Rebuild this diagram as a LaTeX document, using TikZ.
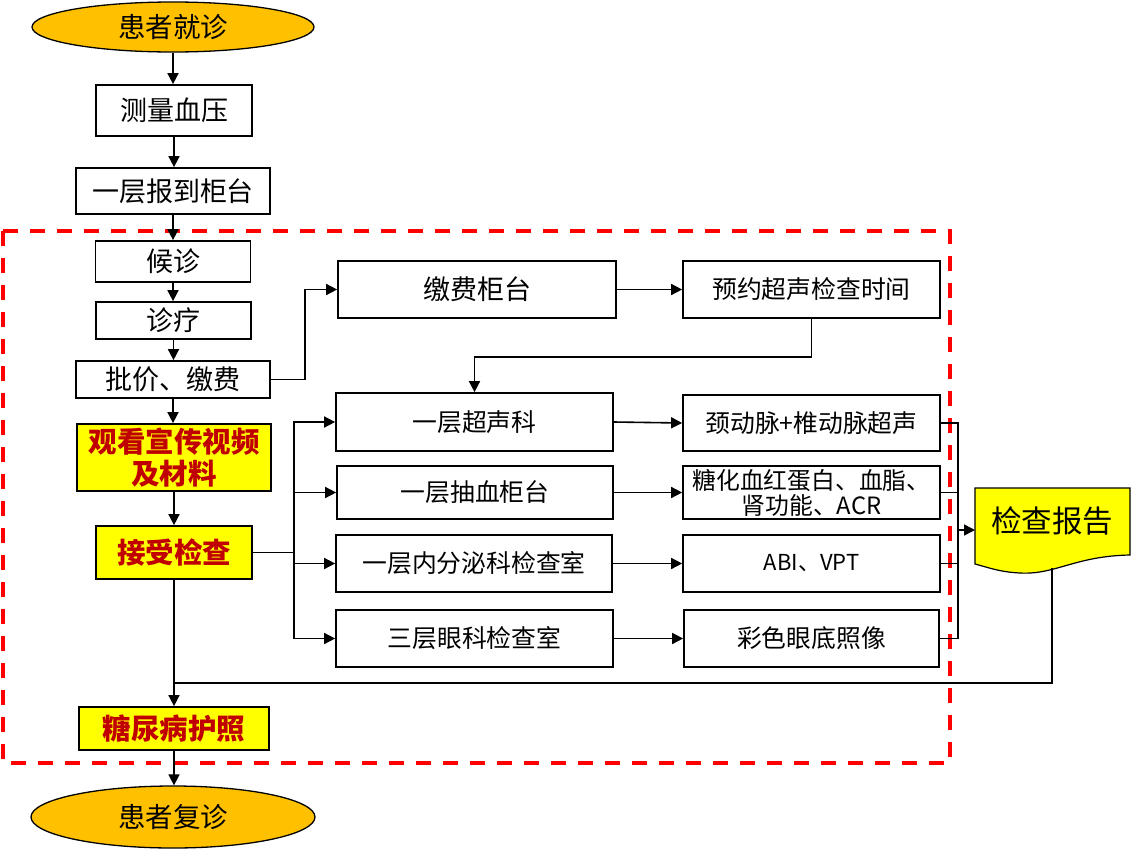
\documentclass[tikz,border=0pt]{standalone}
\usepackage{fontspec}
\setmainfont{Noto Sans CJK SC}
\usetikzlibrary{arrows.meta,shapes.geometric}
\definecolor{orng}{HTML}{FFC000}
\definecolor{ylw}{HTML}{FFFF00}
\definecolor{dred}{HTML}{C00000}
\begin{document}
\begin{tikzpicture}[x=1pt,y=-1pt,
  box/.style={draw=black,line width=1.7pt,inner sep=0pt,fill=white},
  oval/.style={ellipse,draw=black,line width=1.3pt,fill=orng,inner sep=0pt,font=\fontsize{27.5}{30}\selectfont},
  hl/.style={box,fill=ylw,text=dred,font=\fontsize{28.5}{31}\selectfont\bfseries},
  lf/.style={font=\fontsize{27}{30}\selectfont},
  rf/.style={font=\fontsize{24.8}{27}\selectfont},
  ln/.style={line width=1.6pt,draw=black},
  arr/.style={ln,-{Triangle[length=11pt,width=11pt]}}
]
\useasboundingbox (0,0) rectangle (1133,849);
% dashed frame
\draw[red,line width=3.6pt,dash pattern=on 15pt off 12pt] (3,231) rectangle (950,763);
% left column
\node[oval,minimum width=282,minimum height=50] (start) at (173,27) {患者就诊};
\node[box,lf,minimum width=156,minimum height=51] (bp) at (174,110.5) {测量血压};
\node[box,lf,minimum width=194,minimum height=46] (reg) at (173,191) {一层报到柜台};
\node[box,lf,minimum width=155,minimum height=41] (wait) at (173,261.5) {候诊};
\node[box,lf,minimum width=155,minimum height=37] (diag) at (173.5,320.5) {诊疗};
\node[box,lf,minimum width=194,minimum height=37] (pay) at (173,379.5) {批价、缴费};
\node[hl,minimum width=194,minimum height=67,align=center,font=\fontsize{28.5}{32}\selectfont\bfseries] (video) at (174,457.5) {观看宣传视频\\及材料};
\node[hl,minimum width=156,minimum height=53] (exam) at (174,552.5) {接受检查};
\node[hl,minimum width=190,minimum height=43] (pass) at (174,728.5) {糖尿病护照};
\node[oval,minimum width=284,minimum height=62] (end) at (173,817) {患者复诊};
% middle column
\node[box,lf,minimum width=278,minimum height=57] (cash) at (477,289.5) {缴费柜台};
\node[box,rf,minimum width=277,minimum height=58] (us) at (474.5,422) {一层超声科};
\node[box,rf,minimum width=276,minimum height=53] (blood) at (475,492.5) {一层抽血柜台};
\node[box,rf,minimum width=276,minimum height=57] (endo) at (474,563.5) {一层内分泌科检查室};
\node[box,rf,minimum width=277,minimum height=57] (eye) at (474.5,638.5) {三层眼科检查室};
% right column
\node[box,rf,minimum width=257,minimum height=57] (appt) at (811.5,289.5) {预约超声检查时间};
\node[box,rf,minimum width=257,minimum height=56] (r1) at (811.5,423) {颈动脉+椎动脉超声};
\node[box,minimum width=257,minimum height=53,align=center,font=\fontsize{23.8}{25}\selectfont] (r2) at (811.5,492.5) {糖化血红蛋白、血脂、\\肾功能、ACR};
\node[box,rf,minimum width=257,minimum height=57,font=\fontsize{22}{24}\selectfont] (r3) at (811.5,563.5) {ABI、VPT};
\node[box,rf,minimum width=255,minimum height=57] (r4) at (811.5,638.5) {彩色眼底照像};
% document shape
\draw[line width=1.2pt,fill=ylw] (975,488) -- (1130,488) -- (1130,555)
  .. controls (1075,556) and (1055,575) .. (1020,573)
  .. controls (1000,572) and (990,568) .. (975,564) -- cycle;
\node[font=\fontsize{30.5}{33}\selectfont] (doc) at (1052,521) {检查报告};
\coordinate (docw) at (975,530);
\coordinate (docb) at (1052,568);
\coordinate (col) at (958,530);
\coordinate (br) at (294,552.5);
\coordinate (ret) at (174,683);
% main column arrows
\draw[arr] (start.south) -- (start.south |- bp.north);
\draw[arr] (bp.south) -- (bp.south |- reg.north);
\draw[arr] (reg.south) -- (reg.south |- wait.north);
\draw[arr] (wait.south) -- (wait.south |- diag.north);
\draw[arr] (diag.south) -- (diag.south |- pay.north);
\draw[arr] (pay.south) -- (pay.south |- video.north);
\draw[arr] (video.south) -- (video.south |- exam.north);
\draw[arr] (exam.south) -- (exam.south |- pass.north);
\draw[arr] (pass.south) -- (pass.south |- end.north);
% payment branch
\draw[arr] (pay.east) -- ++(34,0) |- (cash.west);
\draw[arr] (cash.east) -- (appt.west);
\draw[arr] (appt.south) -- ++(0,38) -| (us.north);
% exam branches
\draw[ln] (exam.east) -- (br);
\draw[arr] (br) |- (us.west);
\draw[arr] (br) |- (blood.west);
\draw[arr] (br) |- (endo.west);
\draw[arr] (br) |- (eye.west);
\draw[arr] (us.east) -- (r1.west);
\draw[arr] (blood.east) -- (r2.west);
\draw[arr] (endo.east) -- (r3.west);
\draw[arr] (eye.east) -- (r4.west);
% collector
\draw[ln] (r1.east) -| (col);
\draw[ln] (r2.east) -| (col);
\draw[ln] (r3.east) -| (col);
\draw[ln] (r4.east) -| (col);
\draw[arr] (col) -- (docw);
% return line
\draw[ln] (docb) |- (ret);
\end{tikzpicture}
\end{document}
